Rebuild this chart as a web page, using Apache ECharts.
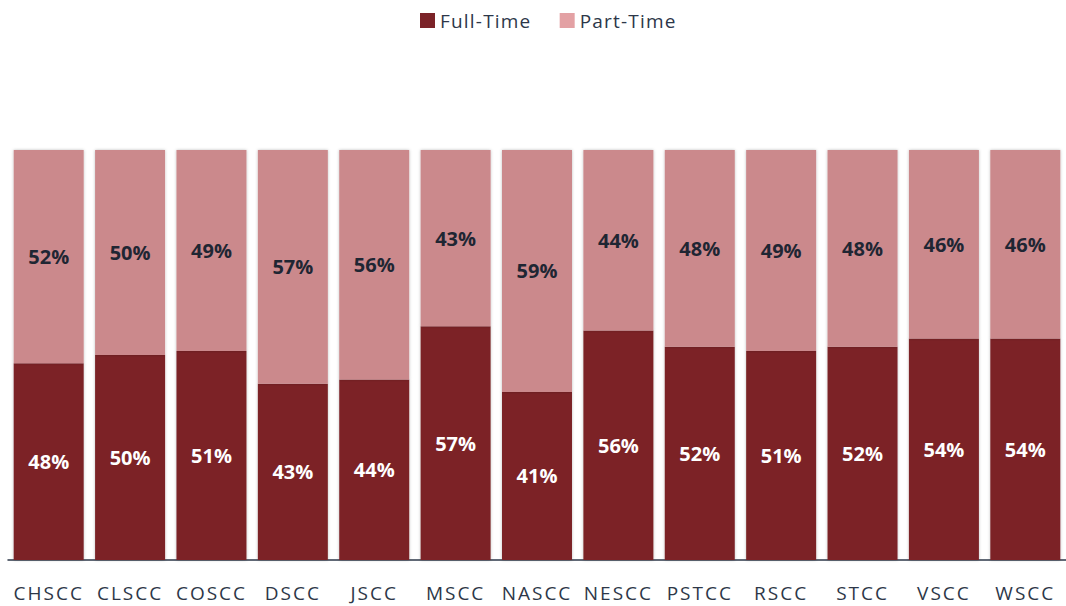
<!DOCTYPE html>
<html>
<head>
<meta charset="utf-8">
<script src="https://cdn.jsdelivr.net/npm/echarts@6/dist/echarts.min.js"></script>
<style>
html,body{margin:0;padding:0;background:#fff;}
#c{width:1066px;height:606px;}
#c text[fill="#2d3748"]{letter-spacing:2px;}
#c text[fill="#2d3749"]{letter-spacing:1.2px;}
</style>
</head>
<body>
<div id="c"></div>
<script>
const categories = ['CHSCC','CLSCC','COSCC','DSCC','JSCC','MSCC','NASCC','NESCC','PSTCC','RSCC','STCC','VSCC','WSCC'];
const fullTime = [48,50,51,43,44,57,41,56,52,51,52,54,54];
const partTime = [52,50,49,57,56,43,59,44,48,49,48,46,46];

const chart = echarts.init(document.getElementById('c'), null, {renderer: 'svg'});
const font = '"Open Sans", "Noto Sans", sans-serif';
const shadow = {shadowBlur: 3, shadowColor: 'rgba(0,0,0,0.25)', shadowOffsetX: 0, shadowOffsetY: 0};
chart.setOption({
  animation: false,
  legend: {
    top: 6, left: 415, itemWidth: 15, itemHeight: 15, itemGap: 39,
    textStyle: {fontFamily: font, fontSize: 19, color: '#2d3749'},
    data: [
      {name: 'Full-Time', icon: 'rect', itemStyle: {color: '#7B2328'}},
      {name: 'Part-Time', icon: 'rect', itemStyle: {color: '#E3A1A4'}}
    ]
  },
  grid: {left: 8, right: -2, top: 150, bottom: 46},
  xAxis: {
    type: 'category', data: categories,
    axisLine: {lineStyle: {color: '#2d3748', width: 1.5}},
    axisTick: {show: false},
    axisLabel: {fontFamily: font, fontSize: 19, color: '#2d3748', margin: 23}
  },
  yAxis: {type: 'value', min: 0, max: 100, show: false, splitLine: {show: false}},
  series: [
    {
      name: 'Full-Time', type: 'bar', stack: 'a', data: fullTime, barCategoryGap: '14%',
      itemStyle: Object.assign({color: '#7B2328'}, shadow),
      label: {show: true, position: 'inside', formatter: '{c}%', fontFamily: font, fontWeight: 'bold', fontSize: 20, color: '#ffffff'}
    },
    {
      name: 'Part-Time', type: 'bar', stack: 'a', data: partTime, barCategoryGap: '14%',
      itemStyle: Object.assign({color: '#CB898C'}, shadow),
      label: {show: true, position: 'inside', formatter: '{c}%', fontFamily: font, fontWeight: 'bold', fontSize: 20, color: '#1f2633'}
    }
  ]
});
</script>
</body>
</html>
